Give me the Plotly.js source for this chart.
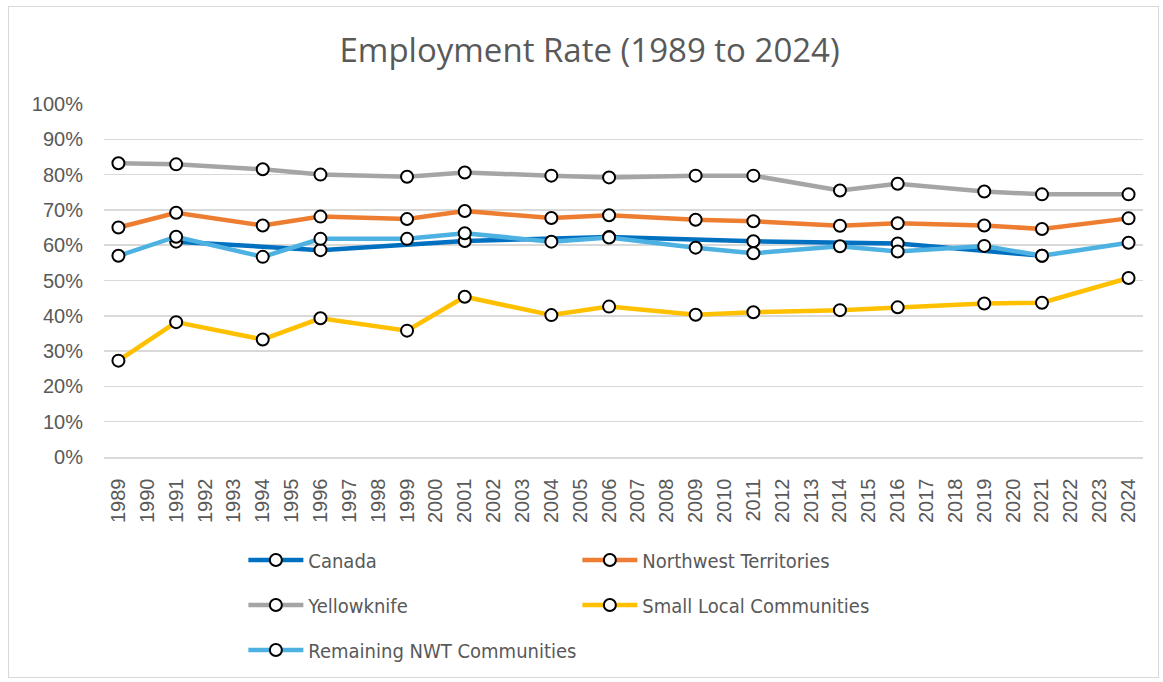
<!DOCTYPE html>
<html>
<head>
<meta charset="utf-8">
<script src="https://cdn.plot.ly/plotly-3.0.1.min.js"></script>
<style>
  html, body { margin: 0; padding: 0; background: #ffffff; }
  #wrap { position: relative; width: 1163px; height: 682px; }
  #chart { width: 1163px; height: 682px; }
  #frame { position: absolute; left: 8px; top: 6px; width: 1151px; height: 672px;
           border: 1px solid #d9d9d9; pointer-events: none; box-sizing: border-box; }
</style>
</head>
<body>
<div id="wrap">
  <div id="chart"></div>
  <div id="frame"></div>
</div>
<script>
// ---- Data ----
const years = [];
for (let y = 1989; y <= 2024; y++) years.push(String(y));

const pointYears = ["1989","1991","1994","1996","1999","2001","2004","2006","2009","2011","2014","2016","2019","2021","2024"];

const canada      = [null, 0.610, null, 0.586, null, 0.612, null, 0.623, null, 0.611, null, 0.605, null, 0.570, null];
const nwt         = [0.650, 0.692, 0.656, 0.681, 0.674, 0.697, 0.677, 0.685, 0.672, 0.668, 0.655, 0.662, 0.656, 0.646, 0.676];
const yellowknife = [0.832, 0.829, 0.815, 0.800, 0.794, 0.806, 0.797, 0.792, 0.797, 0.797, 0.755, 0.774, 0.752, 0.744, 0.744];
const smallLocal  = [0.273, 0.382, 0.333, 0.393, 0.358, 0.454, 0.402, 0.426, 0.403, 0.410, 0.416, 0.424, 0.435, 0.437, 0.507];
const remaining   = [0.570, 0.624, 0.567, 0.618, 0.618, 0.634, 0.610, 0.622, 0.593, 0.577, 0.597, 0.582, 0.598, 0.570, 0.607];

const seriesNames  = ["Canada", "Northwest Territories", "Yellowknife", "Small Local Communities", "Remaining NWT Communities"];
const seriesColors = ["#0070C0", "#ED7D31", "#A5A5A5", "#FFC000", "#4DB2E2"];
const seriesData   = [canada, nwt, yellowknife, smallLocal, remaining];
const seriesLegend = ["legend", "legend", "legend2", "legend2", "legend3"];

// ---- Traces ----
const traces = seriesData.map((vals, i) => {
  const xs = [], ys = [];
  vals.forEach((v, j) => { if (v !== null) { xs.push(pointYears[j]); ys.push(v); } });
  return {
    type: "scatter",
    mode: "lines+markers",
    name: seriesNames[i],
    x: xs,
    y: ys,
    legend: seriesLegend[i],
    line: { color: seriesColors[i], width: 4.5 },
    marker: { symbol: "circle", size: 12, color: "#ffffff", line: { color: "#000000", width: 2 } },
    hoverinfo: "x+y+name"
  };
});

const tickFont = { family: "'Liberation Sans', Arial, sans-serif", size: 20, color: "#595959" };
const legFont  = { family: "'Liberation Sans Narrow', 'DejaVu Sans Condensed', sans-serif", size: 20, color: "#595959" };

function legendAt(yPx) {
  return {
    orientation: "h",
    x: (243 - 103.5) / 1040,
    xanchor: "left",
    y: (457 - yPx) / 353,
    yanchor: "middle",
    font: legFont,
    entrywidth: 264,
    entrywidthmode: "pixels",
    itemwidth: 55,
    bgcolor: "rgba(0,0,0,0)",
    borderwidth: 0,
    traceorder: "normal"
  };
}

const layout = {
  width: 1163,
  height: 682,
  paper_bgcolor: "#ffffff",
  plot_bgcolor: "#ffffff",
  margin: { l: 103.5, r: 19.5, t: 104, b: 225, pad: 0 },
  title: {
    text: "Employment Rate (1989 to 2024)",
    font: { family: "'Open Sans', 'Noto Sans', sans-serif", size: 33, color: "#595959" },
    x: 0.507, xanchor: "center",
    y: 1 - 50 / 682, yanchor: "middle",
    yref: "container"
  },
  xaxis: {
    type: "category",
    categoryorder: "array",
    categoryarray: years,
    tickvals: years,
    ticktext: years,
    range: [-0.5, years.length - 0.5],
    tickangle: -90,
    tickfont: tickFont,
    showgrid: false,
    showline: true,
    linecolor: "#d9d9d9",
    linewidth: 1.5,
    ticks: "",
    ticklabelstandoff: 12,
    zeroline: false,
    fixedrange: true
  },
  yaxis: {
    range: [0, 1],
    dtick: 0.1,
    tick0: 0,
    tickformat: ".0%",
    tickfont: tickFont,
    showgrid: true,
    gridcolor: "#d9d9d9",
    gridwidth: 1.5,
    zeroline: false,
    showline: false,
    ticks: "",
    ticklabelstandoff: 20,
    fixedrange: true
  },
  legend: legendAt(560),
  legend2: legendAt(605),
  legend3: legendAt(650),
  showlegend: true
};

Plotly.newPlot("chart", traces, layout, { displayModeBar: false, staticPlot: true });
</script>
</body>
</html>
